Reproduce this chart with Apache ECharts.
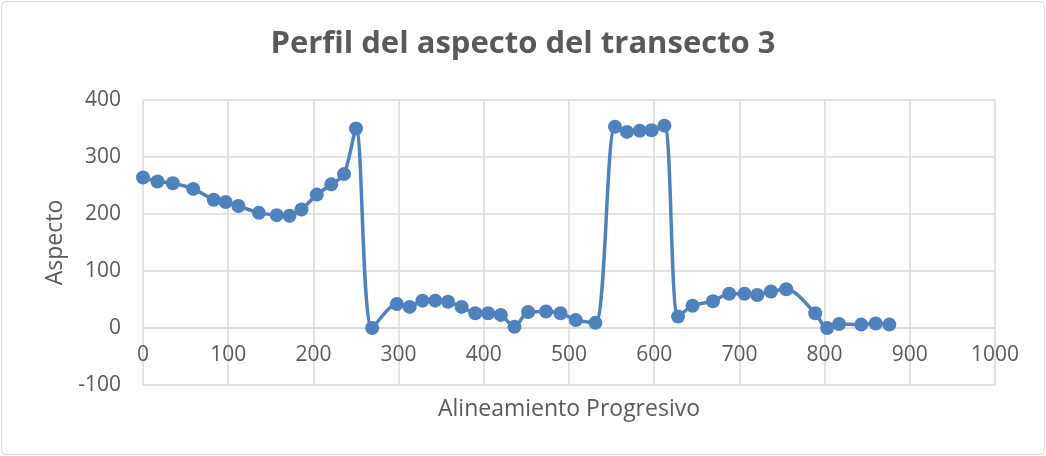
<!DOCTYPE html>
<html>
<head>
<meta charset="utf-8">
<script src="https://cdn.jsdelivr.net/npm/echarts@6/dist/echarts.min.js"></script>
<style>
  html, body { margin: 0; padding: 0; background: #fff; }
  #chart { width: 1046px; height: 456px; }
</style>
</head>
<body>
<div id="chart"></div>
<script>
// progresiva (m) y aspecto (grados)
const progresiva = [0, 17, 35, 59, 83, 97, 112, 136, 157, 172, 186, 204, 221, 236, 250, 269,
  298, 313, 328, 343, 358, 374, 390, 405, 420, 436, 452, 473, 490, 508, 531,
  554, 568, 583, 597, 612, 628, 645, 669, 688, 706, 721, 737, 755, 789, 803, 817, 843, 860, 876];
const aspecto = [264, 257, 254, 244, 225, 221, 214, 202, 198, 197, 208, 234, 252, 270, 350, 0,
  42, 37, 48, 48, 46, 37, 26, 26, 23, 2, 28, 29, 26, 14, 9,
  353, 344, 346, 347, 355, 20, 39, 47, 60, 60, 58, 64, 68, 26, 0, 7, 6, 8, 6];
const xTicks = { min: 0, max: 1000, step: 100 };
const yTicks = { min: -100, max: 400, step: 100 };

const puntos = progresiva.map((x, i) => [x, aspecto[i]]);

const gris = '#595959';
const lineaGrid = '#d9d9d9';

var myChart = echarts.init(document.getElementById('chart'));
myChart.setOption({
  animation: false,
  title: {
    text: 'Perfil del aspecto del transecto 3',
    left: 'center',
    top: 24,
    textStyle: { color: gris, fontSize: 31, fontWeight: 'bold', fontFamily: 'Open Sans' }
  },
  graphic: [{
    type: 'rect',
    shape: { x: 1.5, y: 1.5, width: 1043, height: 453, r: 4 },
    style: { fill: 'none', stroke: lineaGrid, lineWidth: 1 },
    silent: true
  }],
  grid: { left: 143, right: 51, top: 100, bottom: 71, outerBoundsMode: 'none' },
  xAxis: {
    type: 'value',
    min: xTicks.min,
    max: xTicks.max,
    interval: xTicks.step,
    // el eje cruza en y = 0 (57 px por encima del borde inferior)
    offset: -57,
    name: 'Alineamiento Progresivo',
    nameLocation: 'middle',
    nameGap: 70,
    nameTextStyle: { color: gris, fontSize: 23, fontFamily: 'Open Sans' },
    axisLine: { onZero: false, lineStyle: { color: lineaGrid, width: 1.5 } },
    axisTick: { show: false },
    axisLabel: { color: gris, fontSize: 21, fontFamily: 'Open Sans', margin: 17, formatter: v => String(v) },
    splitLine: { show: true, lineStyle: { color: lineaGrid, width: 1.5 } }
  },
  yAxis: {
    type: 'value',
    min: yTicks.min,
    max: yTicks.max,
    interval: yTicks.step,
    name: 'Aspecto',
    nameLocation: 'middle',
    nameGap: 73,
    nameTextStyle: { color: gris, fontSize: 23, fontFamily: 'Open Sans' },
    axisLine: { show: false },
    axisTick: { show: false },
    axisLabel: { color: gris, fontSize: 21, fontFamily: 'Open Sans', margin: 22, formatter: v => String(v) },
    splitLine: { show: true, lineStyle: { color: lineaGrid, width: 1.5 } }
  },
  series: [{
    type: 'line',
    data: puntos,
    smooth: 0.3,
    symbol: 'circle',
    symbolSize: 14,
    itemStyle: { color: '#4f81bd' },
    lineStyle: { color: '#4f81bd', width: 3.5 }
  }]
});
</script>
</body>
</html>
